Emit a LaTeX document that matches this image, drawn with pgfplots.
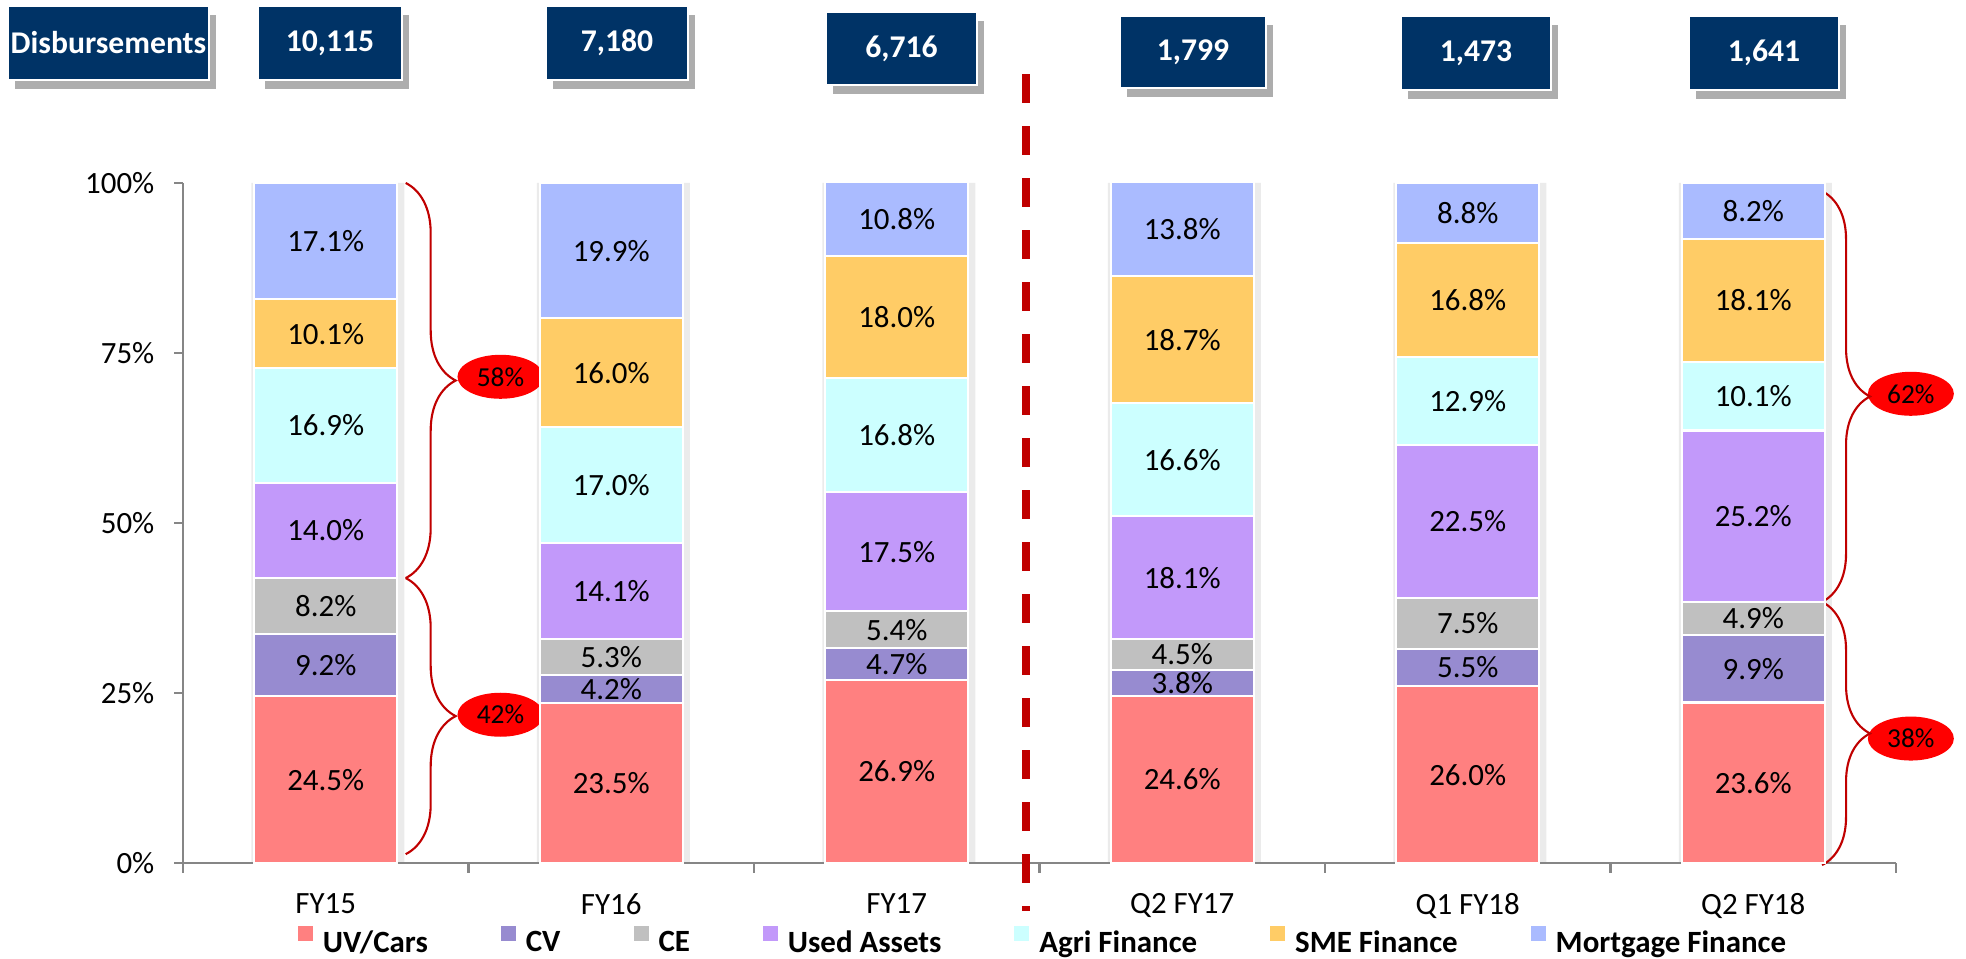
\documentclass[border=0pt]{standalone}
\usepackage{fontspec}
\setmainfont{Carlito}
\usepackage{pgfplots}
\usepackage{pgfplotstable}
\pgfplotsset{compat=1.18}
\usetikzlibrary{decorations.pathreplacing,shapes.geometric,shadows}

\definecolor{cuv}{RGB}{255,128,128}
\definecolor{ccv}{RGB}{151,139,208}
\definecolor{cce}{RGB}{192,192,192}
\definecolor{cused}{RGB}{194,153,250}
\definecolor{cagri}{RGB}{204,255,255}
\definecolor{csme}{RGB}{255,204,102}
\definecolor{cmort}{RGB}{170,187,255}
\definecolor{navy}{RGB}{0,51,102}
\definecolor{axisgrey}{RGB}{134,134,134}
\definecolor{dkred}{RGB}{192,0,0}

\newcommand\lbl{\fontsize{8.8}{10.5}\selectfont}

\pgfplotstableread{
x uv cv ce used agri sme mort
0 24.5 9.2 8.2 14.0 16.9 10.1 17.1
1 23.5 4.2 5.3 14.1 17.0 16.0 19.9
2 26.9 4.7 5.4 17.5 16.8 18.0 10.8
3 24.6 3.8 4.5 18.1 16.6 18.7 13.8
4 26.0 5.5 7.5 22.5 12.9 16.8 8.8
5 23.6 9.9 4.9 25.2 10.1 18.1 8.2
}\mixtable

\tikzset{topbox/.style={fill=navy, draw=white, line width=0.5pt, text=white,
  font=\bfseries\fontsize{9}{10}\selectfont, inner sep=0pt,
  drop shadow={shadow xshift=0.7mm, shadow yshift=-0.9mm, fill=black!32, opacity=1}}}

\begin{document}
\begin{tikzpicture}[x=1cm,y=1cm]
\path[use as bounding box] (0,0) rectangle (19.66,9.59);

% light shadow behind the bars
\begin{axis}[at={(1.83cm,0.96cm)}, anchor=south west, scale only axis,
  width=17.13cm, height=6.8cm, xmin=-0.5, xmax=5.5, ymin=0, ymax=100,
  hide axis, ybar, bar width=1.53cm, clip=false]
\addplot[fill=black!8, draw=none, bar shift=0.02cm] coordinates {(0,100) (1,100) (2,100) (3,100) (4,100) (5,100)};
\end{axis}

\begin{axis}[at={(1.83cm,0.96cm)}, anchor=south west, scale only axis,
  width=17.13cm, height=6.8cm, xmin=-0.5, xmax=5.5, ymin=0, ymax=100,
  ybar stacked, bar width=1.43cm, clip=false,
  axis x line*=bottom, axis y line*=left, tick pos=left,
  axis line style={draw=axisgrey, line width=0.6pt},
  tick align=outside, major tick length=0.09cm, minor tick length=0.1cm,
  xtick={0,1,2,3,4,5},
  xticklabels={FY15,FY16,FY17,Q2 FY17,Q1 FY18,Q2 FY18},
  minor xtick={-0.5,0.5,1.5,2.5,3.5,4.5,5.5},
  major x tick style={draw=none},
  minor x tick style={draw=axisgrey, line width=0.6pt},
  major y tick style={draw=axisgrey, line width=0.6pt},
  ytick={0,25,50,75,100},
  yticklabels={0\%,25\%,50\%,75\%,100\%},
  xticklabel style={font=\lbl, inner sep=0pt, anchor=north, yshift=-2.1mm},
  yticklabel style={font=\lbl, inner sep=0pt, anchor=east, xshift=-1.9mm},
  /pgf/number format/assume math mode=true,
  every axis plot/.append style={draw=white, line width=0.6pt},
  visualization depends on=rawy \as \rawy,
  nodes near coords={\pgfmathprintnumber[fixed,fixed zerofill,precision=1]{\rawy}\%},
  every node near coord/.append style={font=\lbl, text=black, anchor=center, inner sep=0pt},
  legend columns=7,
  legend image code/.code={\path[#1,draw=none] (0,0.25mm) rectangle (1.5mm,1.75mm);},
  legend style={at={(0.0671,-0.116)}, anchor=west, draw=none, fill=none,
     inner sep=0pt, outer sep=0pt, font=\bfseries\lbl,
     nodes={inner sep=0pt},
     /tikz/every odd column/.append style={column sep=1mm},
     /tikz/every even column/.append style={column sep=7.3mm}},
]
\addplot[fill=cuv] table[x=x,y=uv] {\mixtable};
\addlegendentry{UV/Cars}
\addplot[fill=ccv] table[x=x,y=cv] {\mixtable};
\addlegendentry{CV}
\addplot[fill=cce] table[x=x,y=ce] {\mixtable};
\addlegendentry{CE}
\addplot[fill=cused] table[x=x,y=used] {\mixtable};
\addlegendentry{Used Assets}
\addplot[fill=cagri] table[x=x,y=agri] {\mixtable};
\addlegendentry{Agri Finance}
\addplot[fill=csme] table[x=x,y=sme] {\mixtable};
\addlegendentry{SME Finance}
\addplot[fill=cmort] table[x=x,y=mort] {\mixtable};
\addlegendentry{Mortgage Finance}

% divider
\draw[dkred, line width=0.8mm, dash pattern=on 2.9mm off 2.3mm]
  (axis cs:2.451,116) -- (axis cs:2.451,-7);

% braces
\draw[dkred, line width=0.6pt, decorate, decoration={brace, amplitude=5mm}]
  (axis cs:0.28,100) -- (axis cs:0.28,41.9);
\draw[dkred, line width=0.6pt, decorate, decoration={brace, amplitude=5mm}]
  (axis cs:0.28,41.9) -- (axis cs:0.28,1.3);
\draw[dkred, line width=0.6pt, decorate, decoration={brace, amplitude=4.8mm}]
  (axis cs:5.241,98.8) -- (axis cs:5.241,38.4);
\draw[dkred, line width=0.6pt, decorate, decoration={brace, amplitude=4.8mm}]
  (axis cs:5.241,38.4) -- (axis cs:5.241,-0.3);

\tikzset{oval/.style={ellipse, fill=red, draw=none, minimum width=0.86cm, minimum height=0.44cm,
  inner sep=0pt, font=\fontsize{7.8}{9}\selectfont}}
\node[oval] at (axis cs:0.612,71.5) {58\%};
\node[oval] at (axis cs:0.612,21.8) {42\%};
\node[oval] at (axis cs:5.552,69.0) {62\%};
\node[oval] at (axis cs:5.552,18.3) {38\%};
\end{axis}

% disbursement boxes
\node[topbox, minimum width=2.01cm, minimum height=0.74cm] at (1.085,9.16) {Disbursements};
\node[topbox, minimum width=1.44cm, minimum height=0.74cm] at (3.30,9.16) {10,115};
\node[topbox, minimum width=1.42cm, minimum height=0.74cm] at (6.17,9.16) {7,180};
\node[topbox, minimum width=1.51cm, minimum height=0.73cm] at (9.015,9.105) {6,716};
\node[topbox, minimum width=1.46cm, minimum height=0.72cm] at (11.93,9.07) {1,799};
\node[topbox, minimum width=1.50cm, minimum height=0.74cm] at (14.76,9.06) {1,473};
\node[topbox, minimum width=1.50cm, minimum height=0.74cm] at (17.64,9.06) {1,641};
\end{tikzpicture}
\end{document}
